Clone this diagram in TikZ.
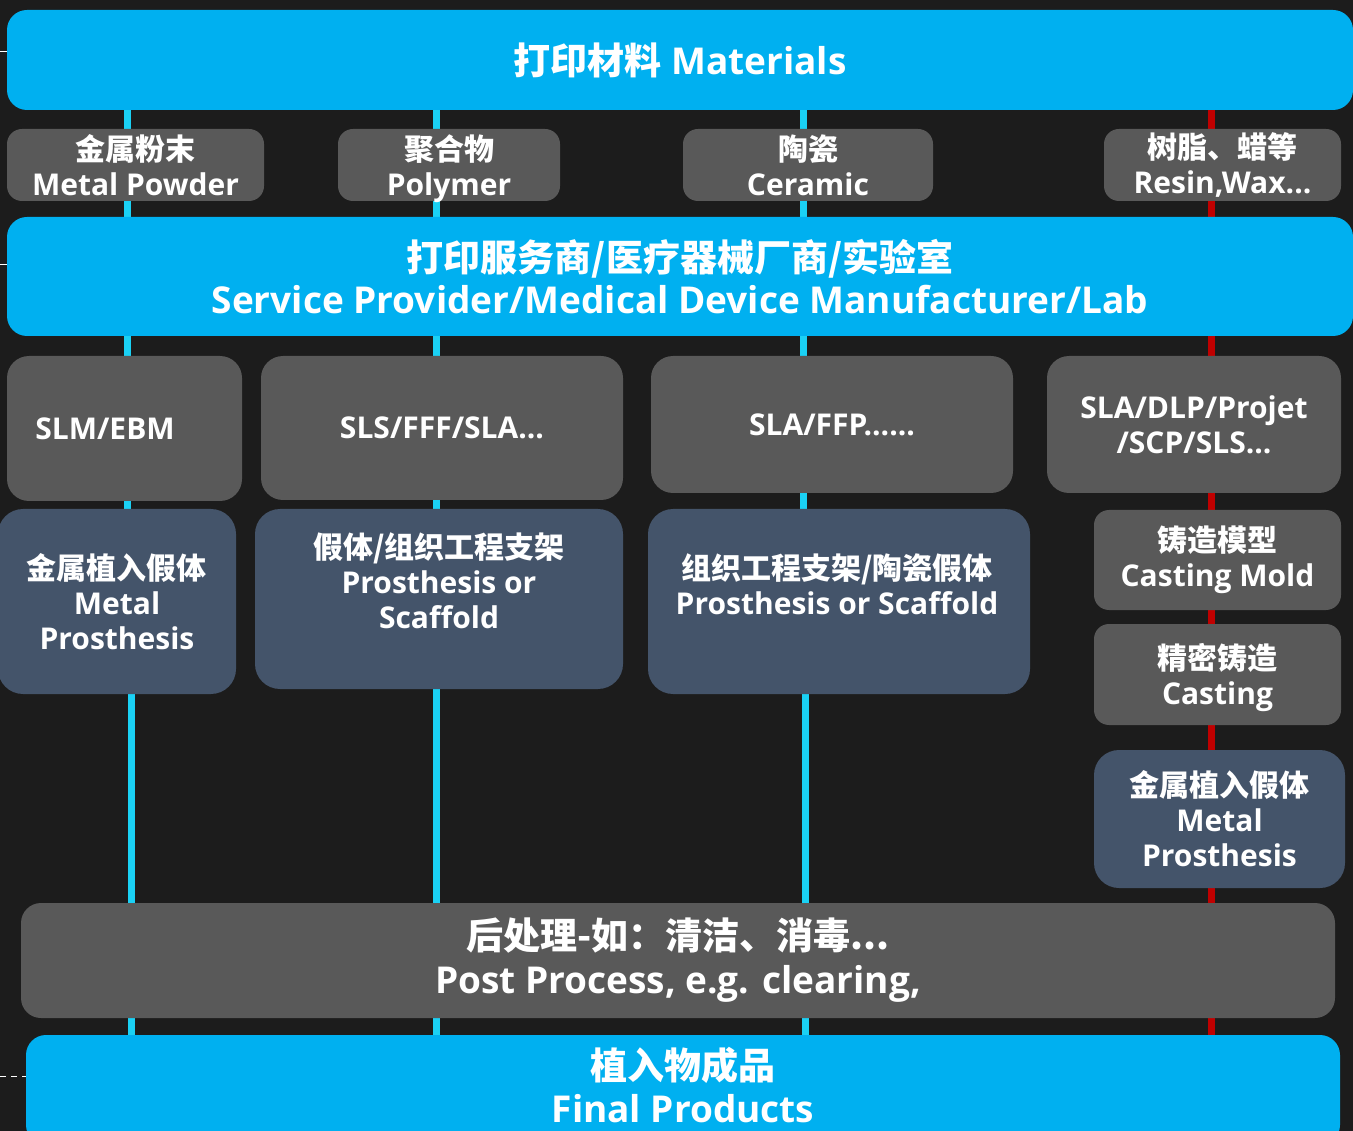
\documentclass[tikz,border=0pt]{standalone}
\usepackage{fontspec}
\setmainfont{Open Sans}
\newfontfamily\cjkfont{Noto Sans CJK SC}
\newcommand\zh[1]{{\cjkfont\bfseries #1}}
\usetikzlibrary{backgrounds}
\definecolor{bgc}{HTML}{1C1C1C}
\definecolor{cyanbox}{HTML}{00B0F0}
\definecolor{grayb}{HTML}{595959}
\definecolor{slate}{HTML}{44546A}
\definecolor{cyanln}{HTML}{1AD1F5}
\definecolor{redln}{HTML}{C00000}
\tikzset{
  basebox/.style={rounded corners=15pt, inner sep=0pt, align=center, text=white,
     font=\fontsize{30}{35}\selectfont\bfseries},
  bigbox/.style={basebox, fill=cyanbox, rounded corners=20pt,
     font=\fontsize{37}{42}\selectfont\bfseries},
  graybox/.style={basebox, fill=grayb},
  slatebox/.style={basebox, fill=slate, rounded corners=25pt},
  cyline/.style={draw=cyanln, line width=7pt},
  rdline/.style={draw=redln, line width=7pt},
  tick/.style={draw=white, line width=1pt},
  shifted/.style={font=\fontsize{30}{35}\selectfont\bfseries, text=white, align=center}
}
\begin{document}
\begin{tikzpicture}[x=1pt,y=-1pt]
\useasboundingbox (0,0) rectangle (1353,1131);

% top band
\node[bigbox, minimum width=1346, minimum height=100] (mat) at (680,60) {\zh{打印材料} Materials};
% materials
\node[graybox, minimum width=257, minimum height=72] (pow) at (135.5,165) {\zh{金属粉末}\\Metal Powder};
\node[graybox, minimum width=222, minimum height=72] (pol) at (449,165) {\zh{聚合物}\\Pol\smash{y}mer};
\node[graybox, minimum width=250, minimum height=72] (cer) at (808,165) {\zh{陶瓷}\\Ceramic};
\node[graybox, minimum width=237, minimum height=72] (res) at (1222.5,165) {\zh{树脂、蜡等}\\Resin,Wax...};
% service
\node[bigbox, minimum width=1346, minimum height=119] (srv) at (680,276.5)
  {\zh{打印服务商/医疗器械厂商/实验室}\\Service Provider/Medical Device Manufacturer/Lab};
% processes
\node[graybox, rounded corners=22pt, minimum width=235, minimum height=145] (slm) at (124.5,428.5) {SLM/EBM\hspace*{39pt}};
\node[graybox, rounded corners=22pt, minimum width=362, minimum height=144] (sls) at (442,428) {SLS/FFF/SLA...};
\node[graybox, rounded corners=22pt, minimum width=362, minimum height=137] (ffp) at (832,424.5) {SLA/FFP......};
\node[graybox, rounded corners=22pt, minimum width=294, minimum height=137] (dlp) at (1194,424.5) {SLA/DLP/Projet\\/SCP/SLS...};
% products
\node[slatebox, minimum width=238, minimum height=185] (mp1) at (117,601.5) {\zh{金属植入假体}\\Metal\\Prosthesis};
\node[slatebox, minimum width=368, minimum height=180] (psf) at (439,599)
  {}; \node[shifted] at (439,581) {\zh{假体/组织工程支架}\\Prosthesis or\\Scaffold};
\node[slatebox, minimum width=382, minimum height=185] (cps) at (839,601.5)
  {}; \node[shifted] at (837,584) {\zh{组织工程支架/陶瓷假体}\\Prosthesis or Scaffold};
\node[graybox, minimum width=247, minimum height=100] (mold) at (1217.5,560) {\zh{铸造模型}\\Casting Mold};
\node[graybox, minimum width=247, minimum height=101] (cast) at (1217.5,674.5) {\zh{精密铸造}\\Castin\smash{g}};
\node[slatebox, minimum width=251, minimum height=138] (mp2) at (1219.5,819) {\zh{金属植入假体}\\Metal\\Prosthesis};
% post & final
\node[graybox, rounded corners=20pt, minimum width=1314, minimum height=115,
      font=\fontsize{37}{44}\selectfont\bfseries] (post) at (678,960.5)
  {\zh{后处理-如：清洁、消毒...}\\Post Process, e.g. clearing,};
\node[bigbox, minimum width=1314, minimum height=110] (fin) at (683,1090) {}; 
\node[shifted, font=\fontsize{37}{43}\selectfont\bfseries] at (683,1085.5) {\zh{植入物成品}\\Final Products};

\coordinate (c1) at (127,0);
\coordinate (c1b) at (131,0);
\coordinate (c2) at (436,0);
\coordinate (c3) at (803,0);
\coordinate (c3b) at (805,0);
\coordinate (c4) at (1211,0);
\begin{scope}[on background layer]
\fill[bgc] (0,0) rectangle (1353,1131);
\draw[cyline] (mat.south -| c1) -- (mp1.north -| c1);
\draw[cyline] (mp1.south -| c1b) -- (fin.north -| c1b);
\draw[cyline] (mat.south -| c2) -- (fin.north -| c2);
\draw[cyline] (mat.south -| c3) -- (cps.north -| c3);
\draw[cyline] (cps.south -| c3b) -- (fin.north -| c3b);
\draw[rdline] (mat.south -| c4) -- (fin.north -| c4);
\end{scope}
\draw[tick] (0,52) -- (mat.west |- 0,52);
\draw[tick] (0,265) -- (srv.west |- 0,265);
\draw[tick, dashed, dash pattern=on 6pt off 5pt] (0,1076) -- (fin.west |- 0,1076);
\end{tikzpicture}
\end{document}
